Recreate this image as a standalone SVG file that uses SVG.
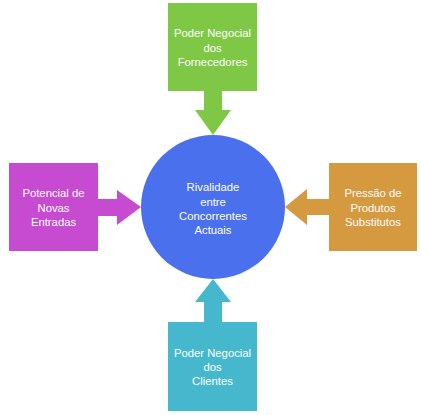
<svg xmlns="http://www.w3.org/2000/svg" width="421" height="415" viewBox="0 0 421 415">
<style>
text{font-family:"Liberation Sans",Arial,sans-serif;font-size:11.3px;fill:#ffffff;text-anchor:middle}
.g{fill:#7fc846}.p{fill:#c64bd0}.o{fill:#d5993f}.t{fill:#45b8cd}.b{fill:#4b70ee}
</style>
<rect width="421" height="415" fill="#ffffff"/>
<g id="connectors">
<polygon class="g" points="204,90 222,90 222,110 231,110 213,135 195,110 204,110"/>
<polygon class="p" points="97,199 117,199 117,190 141,207 117,225 117,216 97,216"/>
<polygon class="o" points="330,199 307,199 307,189 285,207 307,225 307,215 330,215"/>
<polygon class="t" points="204,323 222,323 222,302 231,302 213,279 195,302 204,302"/>
</g>
<g id="fornecedores">
<rect class="g" x="168" y="3" width="89" height="88"/>
<text x="212.5" y="37">Poder Negocial</text>
<text x="212.5" y="51.5">dos</text>
<text x="212.5" y="66">Fornecedores</text>
</g>
<g id="novas-entradas">
<rect class="p" x="9" y="163" width="89" height="88"/>
<text x="53.5" y="197">Potencial de</text>
<text x="53.5" y="211.5">Novas</text>
<text x="53.5" y="226">Entradas</text>
</g>
<g id="substitutos">
<rect class="o" x="329" y="163" width="88" height="88"/>
<text x="373" y="197">Pressão de</text>
<text x="373" y="211.5">Produtos</text>
<text x="373" y="226">Substitutos</text>
</g>
<g id="clientes">
<rect class="t" x="168" y="322" width="89" height="89"/>
<text x="212.5" y="357">Poder Negocial</text>
<text x="212.5" y="371">dos</text>
<text x="212.5" y="385">Clientes</text>
</g>
<g id="rivalidade">
<circle class="b" cx="213" cy="207" r="72"/>
<text x="213" y="191">Rivalidade</text>
<text x="213" y="205.5">entre</text>
<text x="213" y="219.5">Concorrentes</text>
<text x="213" y="233.5">Actuais</text>
</g>
</svg>
